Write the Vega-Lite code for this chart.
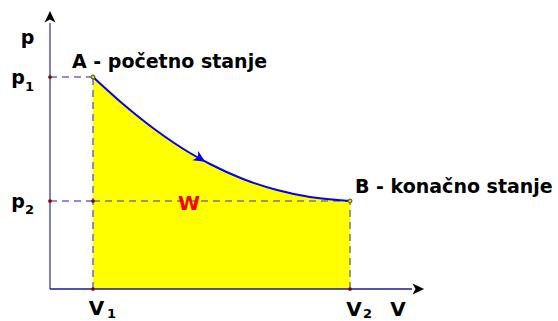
{
  "$schema": "https://vega.github.io/schema/vega-lite/v6.json",
  "width": 558,
  "height": 321,
  "padding": 0,
  "autosize": {"type": "none"},
  "background": "white",
  "config": {"view": {"stroke": null}},
  "datasets": {
    "curve": [
      {"V": 43, "p": 212}, {"V": 73, "p": 185}, {"V": 107, "p": 158},
      {"V": 140, "p": 136}, {"V": 160, "p": 125}, {"V": 193, "p": 110},
      {"V": 227, "p": 99}, {"V": 260, "p": 92}, {"V": 300, "p": 88}
    ],
    "blueDash": [
      {"V": 0, "p": 212, "V2": 43, "p2": 212},
      {"V": 0, "p": 88, "V2": 43, "p2": 88},
      {"V": 43, "p": 0, "V2": 43, "p2": 212}
    ],
    "greyDash": [
      {"V": 43, "p": 88, "V2": 300, "p2": 88},
      {"V": 300, "p": 0, "V2": 300, "p2": 88}
    ],
    "vAxis": [{"V": 0, "p": 0, "V2": 0, "p2": 266}],
    "hAxis": [{"V": 0, "p": 0, "V2": 362, "p2": 0}],
    "redDots": [
      {"V": 0, "p": 212}, {"V": 0, "p": 88}, {"V": 43, "p": 88},
      {"V": 43, "p": 0}, {"V": 300, "p": 0}
    ],
    "stateDots": [{"V": 43, "p": 212}, {"V": 300, "p": 88}],
    "upArrow": [{"V": 0, "p": 272}],
    "rightArrow": [{"V": 368, "p": 0}],
    "curveArrow": [{"V": 150, "p": 130.5}],
    "stateLabels": [
      {"V": 22, "p": 221, "label": "A - početno stanje"},
      {"V": 305, "p": 96, "label": "B - konačno stanje"}
    ],
    "pLabels": [
      {"V": -22.5, "p": 245, "label": "p"},
      {"V": -32, "p": 205, "label": "p"},
      {"V": -32, "p": 81, "label": "p"}
    ],
    "vLabels": [
      {"V": 46.5, "p": -26, "label": "V"},
      {"V": 304, "p": -27, "label": "V"},
      {"V": 348, "p": -27, "label": "V"}
    ],
    "subs": [
      {"V": -25, "p": 198, "label": "1"},
      {"V": -25, "p": 75, "label": "2"},
      {"V": 57, "p": -29, "label": "1"},
      {"V": 313, "p": -29, "label": "2"}
    ],
    "work": [{"V": 139, "p": 79, "label": "W"}]
  },
  "encoding": {
    "x": {"field": "V", "type": "quantitative", "scale": {"domain": [-50, 508], "nice": false, "zero": false}, "axis": null},
    "y": {"field": "p", "type": "quantitative", "scale": {"domain": [-32, 289], "nice": false, "zero": false}, "axis": null}
  },
  "layer": [
    {
      "data": {"name": "curve"},
      "mark": {"type": "area", "color": "#ffff00", "interpolate": "monotone"},
      "encoding": {"y2": {"datum": 0}}
    },
    {
      "data": {"name": "greyDash"},
      "mark": {"type": "rule", "color": "#7a7a7a", "strokeWidth": 1.5, "strokeDash": [7, 5]},
      "encoding": {"x2": {"field": "V2"}, "y2": {"field": "p2"}}
    },
    {
      "data": {"name": "blueDash"},
      "mark": {"type": "rule", "color": "#6a6ac4", "strokeWidth": 1.5, "strokeDash": [7, 5]},
      "encoding": {"x2": {"field": "V2"}, "y2": {"field": "p2"}}
    },
    {
      "data": {"name": "vAxis"},
      "mark": {"type": "rule", "color": "#5858a8", "strokeWidth": 1.5},
      "encoding": {"x2": {"field": "V2"}, "y2": {"field": "p2"}}
    },
    {
      "data": {"name": "hAxis"},
      "mark": {"type": "rule", "color": "#1c1c80", "strokeWidth": 1.5},
      "encoding": {"x2": {"field": "V2"}, "y2": {"field": "p2"}}
    },
    {
      "data": {"name": "curve"},
      "mark": {"type": "line", "color": "#0000ff", "strokeWidth": 2, "interpolate": "monotone"}
    },
    {
      "data": {"name": "redDots"},
      "mark": {"type": "point", "filled": true, "color": "#8b0000", "size": 14, "opacity": 1}
    },
    {
      "data": {"name": "stateDots"},
      "mark": {"type": "point", "filled": true, "fill": "#d8d800", "stroke": "#555500", "strokeWidth": 1, "size": 16, "opacity": 1}
    },
    {
      "data": {"name": "upArrow"},
      "mark": {"type": "point", "filled": true, "color": "#000000", "opacity": 1, "size": 150, "shape": "M0,-1L0.9,0.9L0,0.4L-0.9,0.9Z"}
    },
    {
      "data": {"name": "rightArrow"},
      "mark": {"type": "point", "filled": true, "color": "#000000", "opacity": 1, "size": 150, "shape": "M1,0L-0.9,0.9L-0.4,0L-0.9,-0.9Z"}
    },
    {
      "data": {"name": "curveArrow"},
      "mark": {"type": "point", "filled": true, "color": "#0000ff", "opacity": 1, "size": 150, "angle": 32, "shape": "M1,0L-0.9,0.9L-0.4,0L-0.9,-0.9Z"}
    },
    {
      "data": {"name": "stateLabels"},
      "mark": {"type": "text", "align": "left", "baseline": "alphabetic", "font": "DejaVu Sans", "fontWeight": "bold", "fontSize": 19, "color": "#000000"},
      "encoding": {"text": {"field": "label"}}
    },
    {
      "data": {"name": "pLabels"},
      "mark": {"type": "text", "align": "center", "baseline": "alphabetic", "font": "DejaVu Sans", "fontWeight": "bold", "fontSize": 19, "color": "#000000"},
      "encoding": {"text": {"field": "label"}}
    },
    {
      "data": {"name": "vLabels"},
      "mark": {"type": "text", "align": "center", "baseline": "alphabetic", "font": "DejaVu Sans", "fontWeight": "bold", "fontSize": 20, "color": "#000000"},
      "encoding": {"text": {"field": "label"}}
    },
    {
      "data": {"name": "subs"},
      "mark": {"type": "text", "align": "left", "baseline": "alphabetic", "font": "DejaVu Sans", "fontWeight": "bold", "fontSize": 13, "color": "#000000"},
      "encoding": {"text": {"field": "label"}}
    },
    {
      "data": {"name": "work"},
      "mark": {"type": "text", "align": "center", "baseline": "alphabetic", "font": "DejaVu Sans", "fontWeight": "bold", "fontSize": 20, "color": "#ff0000"},
      "encoding": {"text": {"field": "label"}}
    }
  ]
}
